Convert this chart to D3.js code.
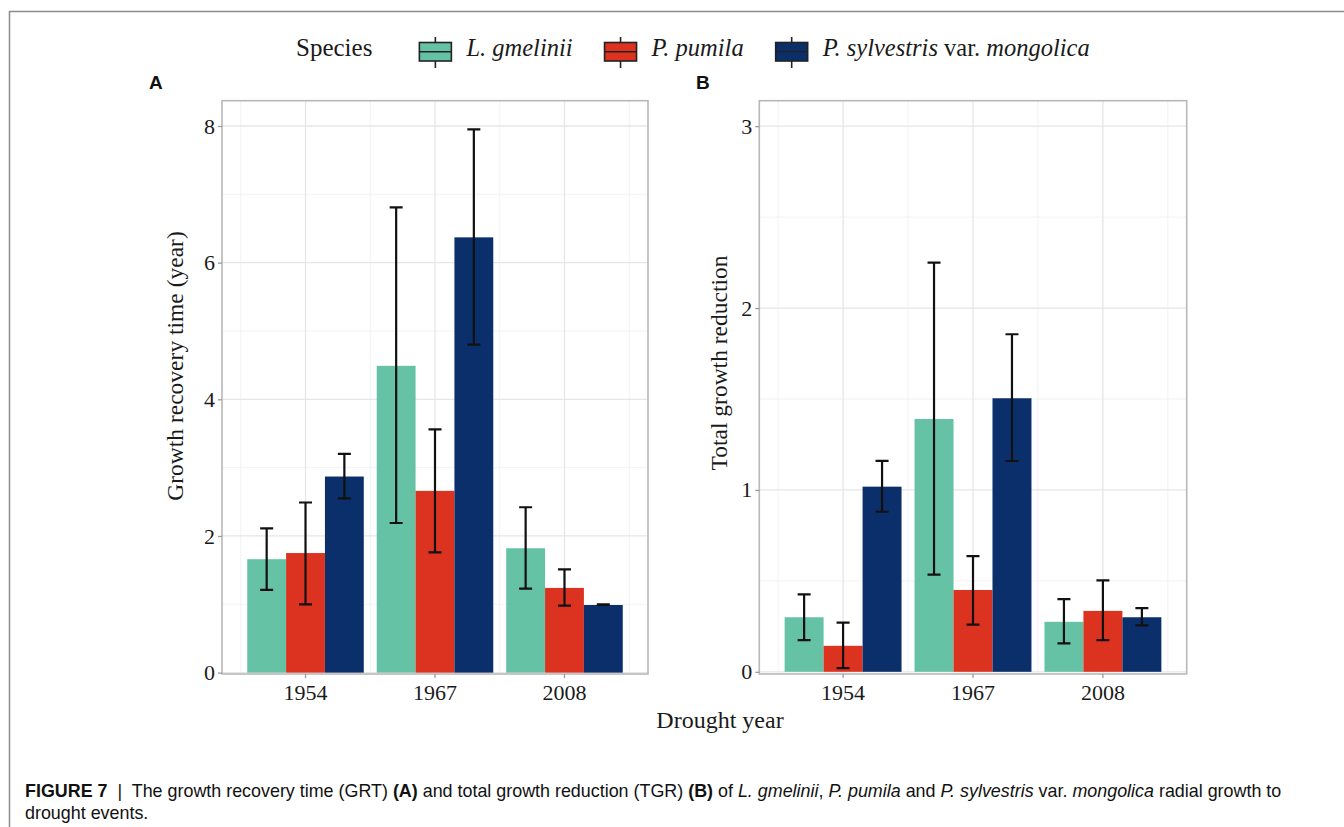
<!DOCTYPE html>
<html>
<head>
<meta charset="utf-8">
<script src="https://cdn.jsdelivr.net/npm/d3@7"></script>
<style>
  body { margin: 0; background: #fff; }
  svg { display: block; }
  .serif { font-family: "Liberation Serif", "Times New Roman", serif; fill: #1a1a1a; }
  .sans { font-family: "Liberation Sans", Arial, sans-serif; fill: #111; }
</style>
</head>
<body>
<div class="fig"></div>
<script>
// ---- data ----
var years = ['1954', '1967', '2008'];
var species = ['L. gmelinii', 'P. pumila', 'P. sylvestris var. mongolica'];
var colors = ['#66c2a5', '#dc3220', '#0b2f6b'];

// growth recovery time (year), rows = drought year, cols = species
var grtMean = [[1.66, 1.75, 2.87], [4.49, 2.66, 6.37], [1.82, 1.24, 0.99]];
var grtLow  = [[1.21, 1.00, 2.55], [2.19, 1.76, 4.80], [1.23, 0.98, 0.99]];
var grtHigh = [[2.11, 2.49, 3.20], [6.81, 3.56, 7.95], [2.42, 1.51, 1.00]];

// total growth reduction
var tgrMean = [[0.300, 0.143, 1.018], [1.39, 0.450, 1.504], [0.275, 0.335, 0.300]];
var tgrLow  = [[0.174, 0.020, 0.880], [0.534, 0.260, 1.159], [0.156, 0.174, 0.255]];
var tgrHigh = [[0.426, 0.270, 1.160], [2.25, 0.636, 1.856], [0.400, 0.503, 0.350]];

var grtTicks = [0, 2, 4, 6, 8], grtMinor = [1, 3, 5, 7];
var tgrTicks = [0, 1, 2, 3], tgrMinor = [0.5, 1.5, 2.5];

var W = 1344, H = 827;
var svg = d3.select('.fig').append('svg').attr('width', W).attr('height', H);

// figure frame (top and left edges)
svg.append('path')
  .attr('d', 'M9.5,' + H + 'V11.5H' + W)
  .attr('fill', 'none').attr('stroke', '#8c8c8c').attr('stroke-width', 1.5);

// draw one panel
function panel(opt) {
  var x = d3.scaleBand().domain(years).range([opt.left, opt.right])
    .paddingInner(0.1).paddingOuter(0.195);
  var xs = d3.scaleBand().domain(d3.range(species.length)).range([0, x.bandwidth()]);
  var y = d3.scaleLinear().domain(opt.domain).range([opt.bottom, opt.top]);
  var step = x.step();
  var g = svg.append('g');

  // minor grid
  var minorX = years.map(function(d) { return x(d) + x.bandwidth() / 2 - step / 2; });
  minorX.push(x(years[years.length - 1]) + x.bandwidth() / 2 + step / 2);
  g.selectAll('.mx').data(minorX).enter().append('line')
    .attr('x1', function(d) { return d; }).attr('x2', function(d) { return d; })
    .attr('y1', opt.top).attr('y2', opt.bottom)
    .attr('stroke', '#efefef').attr('stroke-width', 0.8);
  g.selectAll('.my').data(opt.minor).enter().append('line')
    .attr('x1', opt.left).attr('x2', opt.right)
    .attr('y1', function(d) { return y(d); }).attr('y2', function(d) { return y(d); })
    .attr('stroke', '#efefef').attr('stroke-width', 0.8);

  // major grid
  g.selectAll('.gx').data(years).enter().append('line')
    .attr('x1', function(d) { return x(d) + x.bandwidth() / 2; })
    .attr('x2', function(d) { return x(d) + x.bandwidth() / 2; })
    .attr('y1', opt.top).attr('y2', opt.bottom)
    .attr('stroke', '#e6e6e6').attr('stroke-width', 1.3);
  g.selectAll('.gy').data(opt.ticks).enter().append('line')
    .attr('x1', opt.left).attr('x2', opt.right)
    .attr('y1', function(d) { return y(d); }).attr('y2', function(d) { return y(d); })
    .attr('stroke', '#e6e6e6').attr('stroke-width', 1.3);

  // bars
  var rows = [];
  years.forEach(function(yr, i) {
    species.forEach(function(sp, j) {
      rows.push({ year: yr, s: j, m: opt.mean[i][j], lo: opt.low[i][j], hi: opt.high[i][j] });
    });
  });
  g.selectAll('.bar').data(rows).enter().append('rect')
    .attr('x', function(d) { return x(d.year) + xs(d.s); })
    .attr('width', xs.bandwidth())
    .attr('y', function(d) { return y(d.m); })
    .attr('height', function(d) { return y(0) - y(d.m); })
    .attr('fill', function(d) { return colors[d.s]; });

  // error bars
  var cap = 6.5;
  var eb = g.selectAll('.eb').data(rows).enter().append('g')
    .attr('stroke', '#111').attr('stroke-width', 2.2).attr('fill', 'none');
  eb.append('path').attr('d', function(d) {
    var cx = x(d.year) + xs(d.s) + xs.bandwidth() / 2;
    return 'M' + cx + ',' + y(d.hi) + 'V' + y(d.lo) +
      'M' + (cx - cap) + ',' + y(d.hi) + 'H' + (cx + cap) +
      'M' + (cx - cap) + ',' + y(d.lo) + 'H' + (cx + cap);
  });

  // panel border
  g.append('rect')
    .attr('x', opt.left).attr('y', opt.top)
    .attr('width', opt.right - opt.left).attr('height', opt.bottom - opt.top)
    .attr('fill', 'none').attr('stroke', '#b8b8b8').attr('stroke-width', 1.6);

  // axes
  var ya = g.append('g').attr('transform', 'translate(' + opt.left + ',0)')
    .call(d3.axisLeft(y).tickValues(opt.ticks).tickSize(4).tickPadding(3).tickFormat(d3.format('d')));
  var xa = g.append('g').attr('transform', 'translate(0,' + opt.bottom + ')')
    .call(d3.axisBottom(x).tickSize(4).tickPadding(6));
  [ya, xa].forEach(function(a) {
    a.select('.domain').remove();
    a.selectAll('line').attr('stroke', '#9a9a9a').attr('stroke-width', 1.3);
    a.selectAll('text').attr('class', 'serif').style('font-size', '22px').attr('fill', '#1a1a1a');
  });

  // y title
  svg.append('text').attr('class', 'serif')
    .attr('transform', 'translate(' + opt.titleX + ',' + opt.titleY + ') rotate(-90)')
    .attr('text-anchor', 'middle').style('font-size', '23.5px')
    .text(opt.title);

  // panel letter
  svg.append('text').attr('class', 'sans')
    .attr('x', opt.letterX).attr('y', 89)
    .style('font-size', '19px').style('font-weight', 'bold')
    .text(opt.letter);
}

panel({
  left: 222, right: 648, top: 100.7, bottom: 674,
  domain: [-0.02, 8.37], ticks: grtTicks, minor: grtMinor,
  mean: grtMean, low: grtLow, high: grtHigh,
  title: 'Growth recovery time (year)', titleX: 183, titleY: 366,
  letter: 'A', letterX: 149
});
panel({
  left: 759.3, right: 1186.7, top: 100.7, bottom: 674,
  domain: [-0.012, 3.14], ticks: tgrTicks, minor: tgrMinor,
  mean: tgrMean, low: tgrLow, high: tgrHigh,
  title: 'Total growth reduction', titleX: 727, titleY: 363,
  letter: 'B', letterX: 696
});

// shared x title
svg.append('text').attr('class', 'serif')
  .attr('x', 720).attr('y', 728).attr('text-anchor', 'middle')
  .style('font-size', '24px').text('Drought year');

// legend
var leg = svg.append('g');
var lx = 296, ly = 56;
var lt = leg.append('text').attr('class', 'serif').attr('x', lx).attr('y', ly)
  .style('font-size', '25px').text('Species');
lx += lt.node().getComputedTextLength() + 46;
species.forEach(function(sp, j) {
  var k = leg.append('g').attr('transform', 'translate(' + lx + ',0)');
  k.append('line').attr('x1', 17).attr('x2', 17).attr('y1', 37).attr('y2', 68)
    .attr('stroke', '#222').attr('stroke-width', 1.6);
  k.append('rect').attr('x', 1).attr('y', 42.5).attr('width', 32).attr('height', 18.5)
    .attr('fill', colors[j]).attr('stroke', '#222').attr('stroke-width', 1.6);
  k.append('line').attr('x1', 1).attr('x2', 33).attr('y1', 51.7).attr('y2', 51.7)
    .attr('stroke', '#222').attr('stroke-width', 1.6);
  var t = leg.append('text').attr('class', 'serif').attr('x', lx + 48).attr('y', ly)
    .style('font-size', '24.5px');
  var m = sp.match(/^(.*) var\. (.*)$/);
  if (m) {
    t.append('tspan').style('font-style', 'italic').text(m[1]);
    t.append('tspan').text(' var. ');
    t.append('tspan').style('font-style', 'italic').text(m[2]);
  } else {
    t.append('tspan').style('font-style', 'italic').text(sp);
  }
  lx += 48 + t.node().getComputedTextLength() + 31;
});

// caption
var cap1 = svg.append('text').attr('class', 'sans').attr('x', 25).attr('y', 797)
  .attr('xml:space', 'preserve')
  .style('font-size', '17.9px').attr('fill', '#111');
[
  ['FIGURE 7', 'b'], ['  |  ', 'n'], ['The growth recovery time (GRT) ', 'n'], ['(A)', 'b'],
  [' and total growth reduction (TGR) ', 'n'], ['(B)', 'b'], [' of ', 'n'],
  ['L. gmelinii', 'i'], [', ', 'n'], ['P. pumila', 'i'], [' and ', 'n'],
  ['P. sylvestris', 'i'], [' var. ', 'n'], ['mongolica', 'i'], [' radial growth to', 'n']
].forEach(function(p) {
  var s = cap1.append('tspan').text(p[0]);
  if (p[1] === 'b') s.style('font-weight', 'bold');
  if (p[1] === 'i') s.style('font-style', 'italic');
});
svg.append('text').attr('class', 'sans').attr('x', 25).attr('y', 819)
  .style('font-size', '17.9px').text('drought events.');
</script>
</body>
</html>
